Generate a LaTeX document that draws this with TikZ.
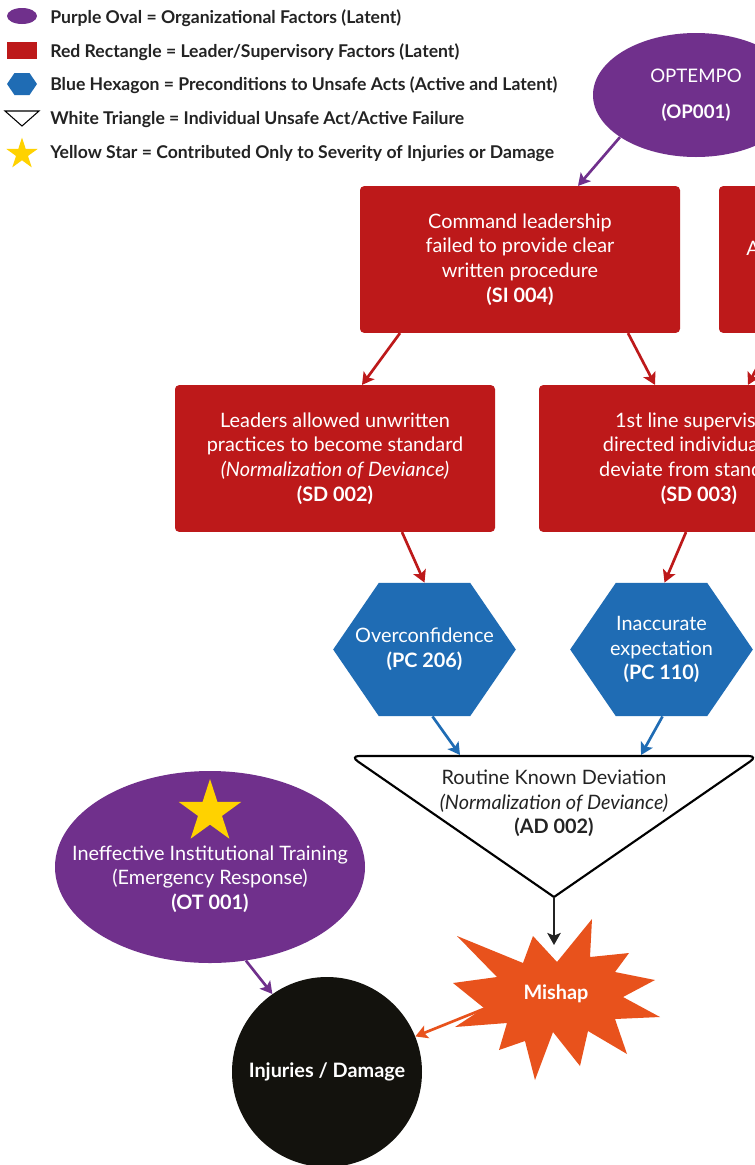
\documentclass[tikz,border=0pt]{standalone}
\usepackage{fontspec}
\setmainfont{Lato}
\usetikzlibrary{arrows.meta,positioning,calc,shapes.geometric}
\definecolor{ink}{RGB}{35,35,35}
\definecolor{cOrg}{RGB}{112,48,140}
\definecolor{cLead}{RGB}{189,25,26}
\definecolor{cPre}{RGB}{31,108,180}
\definecolor{cHit}{RGB}{232,82,28}
\definecolor{cDark}{RGB}{19,18,13}
\definecolor{cStar}{RGB}{255,210,0}
\newcommand{\mainsz}{\fontsize{14.9}{18.4}\selectfont}
\newcommand{\keysz}{\fontsize{13.2}{15}\selectfont}
\tikzset{
  lead/.style={fill=cLead,rounded corners=3pt,minimum width=240pt,minimum height=110pt,
    inner sep=0pt,text=white,align=center,font=\mainsz},
  org/.style={ellipse,fill=cOrg,inner sep=0pt,text=white,align=center,font=\mainsz},
  pre/.style={minimum width=137pt,minimum height=100pt,inner sep=0pt,text=white,
    align=center,font=\mainsz,
    path picture={\fill[cPre] (path picture bounding box.west)
      -- ($(path picture bounding box.north west)!.25!(path picture bounding box.north east)$)
      -- ($(path picture bounding box.north west)!.75!(path picture bounding box.north east)$)
      -- (path picture bounding box.east)
      -- ($(path picture bounding box.south west)!.75!(path picture bounding box.south east)$)
      -- ($(path picture bounding box.south west)!.25!(path picture bounding box.south east)$)
      -- cycle;}},
  starsh/.style={star,star points=5,star point ratio=2.618,fill=cStar,inner sep=0pt},
  txt/.style={align=center,font=\mainsz,inner sep=0pt},
  key/.style={anchor=west,font=\keysz\bfseries,text=ink,inner sep=0pt},
  ar/.style={-{Stealth[length=9pt,width=10pt,inset=2pt]},line width=2pt},
}

\begin{document}
\begin{tikzpicture}[x=0.75pt,y=-0.75pt]
  \useasboundingbox (0,0) rectangle (755,1165);
  \fill[white] (0,0) rectangle (755,1165);
  \clip (0,0) rectangle (755,1165);

  % key
  \node[org,minimum width=22.5pt,minimum height=12pt] (keyorg) at (22,16) {};
  \node[fill=cLead,minimum width=22.5pt,minimum height=12.75pt,inner sep=0pt] (keylead) at (22,50.5) {};
  \node[pre,minimum width=22.5pt,minimum height=16.5pt] (keypre) at (22,84) {};
  \draw[line width=.8pt,fill=white] (5,111) -- (39,111) -- (22,126) -- cycle;
  \node[starsh,minimum size=24.75pt] (keystar) at (22,154) {};
  \node[key] (keyorgtxt)  at (50,18.5) {Purple Oval = Organizational Factors (Latent)};
  \node[key] (keyleadtxt) at (50,52)   {Red Rectangle = Leader/Supervisory Factors (Latent)};
  \node[key] (keypretxt)  at (50,85.5) {Blue Hexagon = Preconditions to Unsafe Acts (Active and Latent)};
  \node[key] (keyacttxt)  at (50,119.5){White Triangle = Individual Unsafe Act/Active Failure};
  \node[key] (keystartxt) at (50,154)  {Yellow Star = Contributed Only to Severity of Injuries or Damage};

  % organizational + leader levels
  \node[org,minimum width=154.5pt,minimum height=93pt,font=\fontsize{14}{18}\selectfont] (op001) at (696,95)
     {OPTEMPO\\[9pt]\textbf{(OP001)}};
  \node[lead] (si004) at (520,259.5)
     {Command leadership\\failed to provide clear\\written procedure\\\textbf{(SI 004)}};
  \node[lead] (rbox) at (879,259.5) {};
  \node[txt,text=white,anchor=west] (rboxtxt) at (746,248) {A};
  \node[lead] (sd002) at (335,458.5)
     {Leaders allowed unwritten\\practices to become standard\\\textit{(Normalization of Deviance)}\\\textbf{(SD 002)}};
  \node[lead] (sd003) at (699,458.5)
     {1st line supervisors\\directed individuals to\\deviate from standards\\\textbf{(SD 003)}};
  \draw[ar,cOrg] (op001.209) -- ($(si004.north)+(58,0)$);
  \draw[ar,cLead] ($(si004.south)+(-120,0)$) -- ($(sd002.north)+(27,0)$);
  \draw[ar,cLead] ($(si004.south)+(108,0)$) -- ($(sd003.north)+(-44,0)$);
  \draw[ar,cLead] ($(rbox.south)+(-104,0)$) -- ($(sd003.north)+(49,0)$);

  % preconditions
  \node[pre] (pc206) at (424.5,649.5) {Overconfidence\\\textbf{(PC 206)}};
  \node[pre] (pc110) at (661.5,649.5) {Inaccurate\\expectation\\\textbf{(PC 110)}};
  \draw[ar,cLead] ($(sd002.south)+(67,0)$) -- (pc206.north);
  \draw[ar,cLead] ($(sd003.south)+(-13,0)$) -- ($(pc110.north)+(3,0)$);

  % unsafe act
  \coordinate (adtl) at (350,756);
  \coordinate (adtr) at (758,756);
  \coordinate (adtip) at (554,897);
  \draw[line width=1.6pt,fill=white] (adtip) [rounded corners=7pt] -- (adtl) -- (adtr) [sharp corners] -- cycle;
  \node[txt,text=ink] (ad002) at (554,803.5)
     {Routine Known Deviation\\\textit{(Normalization of Deviance)}\\\textbf{(AD 002)}};
  \coordinate (adin1) at (460,755);
  \coordinate (adin2) at (641,755);
  \draw[ar,cPre] ($(pc206.south)+(8,0)$) -- (adin1);
  \draw[ar,cPre] ($(pc110.south)+(1,0)$) -- (adin2);

  % severity
  \node[org,minimum width=232.5pt,minimum height=144pt] (ot001) at (210,867) {};
  \node[starsh,minimum size=49.5pt] (ot001star) at (210,812) {};
  \node[txt,text=white] (ot001txt) at (210,879)
     {Ineffective Institutional Training\\(Emergency Response)\\\textbf{(OT 001)}};

  % mishap burst
  \fill[cHit] (557,962) -- (592,919) -- (590,957) -- (629,953) -- (615,972) -- (655,980)
     -- (623,997) -- (660,1017) -- (615,1019) -- (627,1054) -- (588,1031) -- (580,1066)
     -- (553,1032) -- (535,1080) -- (525,1041) -- (499,1050) -- (507,1023) -- (455,1027)
     -- (484,1008) -- (453,983) -- (497,977) -- (457,936) -- (523,963) -- (533,936) -- cycle;
  \node[txt,text=white,font=\mainsz\bfseries] (mishap) at (556,994) {Mishap};
  \coordinate (mishapin) at (554,945);
  \coordinate (mishapout) at (486,1008);
  \node[circle,fill=cDark,minimum size=142.5pt,inner sep=0pt,text=white,font=\mainsz\bfseries]
     (inj) at (327,1072) {Injuries / Damage};
  \draw[ar,ink] (adtip) -- (mishapin);
  \draw[ar,cOrg] (ot001.-69) -- (inj.125);
  \draw[ar,cHit] (mishapout) -- (inj);
\end{tikzpicture}
\end{document}
